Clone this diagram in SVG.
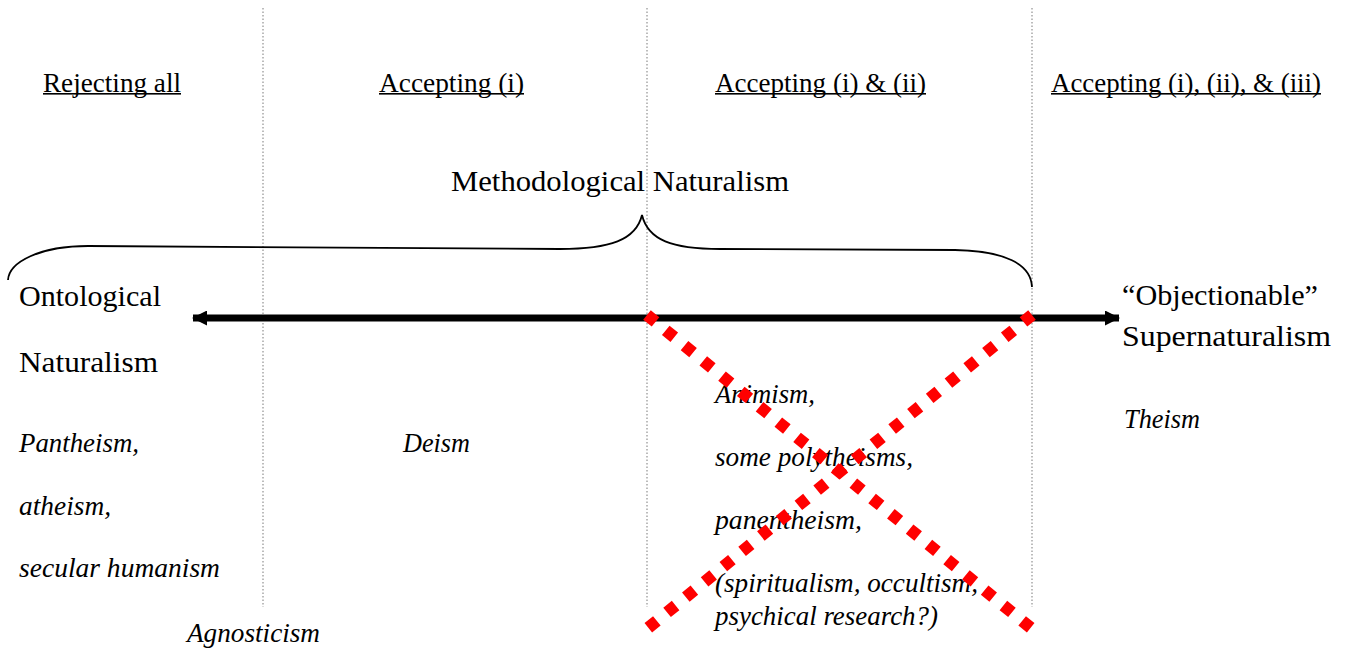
<svg xmlns="http://www.w3.org/2000/svg" width="1349" height="651" viewBox="0 0 1349 651">
<style>
.t{font-family:"Liberation Serif","Times New Roman",serif;fill:#000}
.h{font-size:27px}
.b{font-size:30px}
.i{font-size:27px;font-style:italic}
.ul{fill:#000}
.div{stroke:#999;stroke-width:1.3;stroke-dasharray:1.5 2;fill:none}
.brace{stroke:#000;stroke-width:1.8;fill:none}
.x{stroke:#ff0000;stroke-width:12;stroke-dasharray:11 13.2;fill:none}
</style>
<defs>
<marker id="ah" viewBox="0 0 15 15" refX="14" refY="7.5" markerWidth="15" markerHeight="15" markerUnits="userSpaceOnUse" orient="auto-start-reverse">
<path d="M0,0 L15,7.5 L0,15 Z" fill="#000"/>
</marker>
</defs>
<g id="dividers">
<line class="div" x1="263" y1="8" x2="263" y2="607"/>
<line class="div" x1="647" y1="8" x2="647" y2="607"/>
<line class="div" x1="1032" y1="8" x2="1032" y2="607"/>
</g>
<g id="headers">
<g id="h-rejecting"><text class="t h" x="43" y="92" textLength="138" lengthAdjust="spacingAndGlyphs">Rejecting all</text><rect class="ul" x="43" y="93" width="138" height="1.6"/></g>
<g id="h-accepting-i"><text class="t h" x="379" y="92" textLength="145" lengthAdjust="spacingAndGlyphs">Accepting (i)</text><rect class="ul" x="379" y="93" width="145" height="1.6"/></g>
<g id="h-accepting-ii"><text class="t h" x="715" y="92" textLength="211" lengthAdjust="spacingAndGlyphs">Accepting (i) &amp; (ii)</text><rect class="ul" x="715" y="93" width="211" height="1.6"/></g>
<g id="h-accepting-iii"><text class="t h" x="1051" y="92" textLength="270" lengthAdjust="spacingAndGlyphs">Accepting (i), (ii), &amp; (iii)</text><rect class="ul" x="1051" y="93" width="270" height="1.6"/></g>
</g>
<g id="methodological">
<text class="t b" x="451" y="191" textLength="338" lengthAdjust="spacingAndGlyphs">Methodological Naturalism</text>
<path class="brace" d="M8,280 C9,262 40,246 88,246 L560,249 C610,249 636,240 642,215 C648,240 672,249 720,249 L955,250 C1005,251 1031,264 1032,287"/>
</g>
<g id="connectors">
<line x1="193" y1="318" x2="1119" y2="318" stroke="#000" stroke-width="7" marker-start="url(#ah)" marker-end="url(#ah)"/>
</g>
<g id="ontological">
<text class="t b" x="19" y="306" textLength="142" lengthAdjust="spacingAndGlyphs">Ontological</text>
<text class="t b" x="19" y="372" textLength="139" lengthAdjust="spacingAndGlyphs">Naturalism</text>
</g>
<g id="supernaturalism">
<text class="t b" x="1122" y="305" textLength="196" lengthAdjust="spacingAndGlyphs">“Objectionable”</text>
<text class="t b" x="1122" y="346" textLength="209" lengthAdjust="spacingAndGlyphs">Supernaturalism</text>
</g>
<g id="col1">
<text class="t i" x="19" y="452" textLength="120" lengthAdjust="spacingAndGlyphs">Pantheism,</text>
<text class="t i" x="19" y="515" textLength="92" lengthAdjust="spacingAndGlyphs">atheism,</text>
<text class="t i" x="19" y="577" textLength="201" lengthAdjust="spacingAndGlyphs">secular humanism</text>
</g>
<g id="agnosticism"><text class="t i" x="187" y="642" textLength="133" lengthAdjust="spacingAndGlyphs">Agnosticism</text></g>
<g id="deism"><text class="t i" x="403" y="452" textLength="67" lengthAdjust="spacingAndGlyphs">Deism</text></g>
<g id="col3">
<text class="t i" x="715" y="403" textLength="100" lengthAdjust="spacingAndGlyphs">Animism,</text>
<text class="t i" x="715" y="466" textLength="198" lengthAdjust="spacingAndGlyphs">some polytheisms,</text>
<text class="t i" x="715" y="529" textLength="147" lengthAdjust="spacingAndGlyphs">panentheism,</text>
<text class="t i" x="715" y="592" textLength="263" lengthAdjust="spacingAndGlyphs">(spiritualism, occultism,</text>
<text class="t i" x="715" y="625" textLength="223" lengthAdjust="spacingAndGlyphs">psychical research?)</text>
</g>
<g id="theism"><text class="t i" x="1124" y="428" textLength="76" lengthAdjust="spacingAndGlyphs">Theism</text></g>
<g id="cross">
<line class="x" x1="647" y1="315" x2="1031" y2="628"/>
<line class="x" x1="1032" y1="315" x2="648" y2="628"/>
</g>
</svg>
